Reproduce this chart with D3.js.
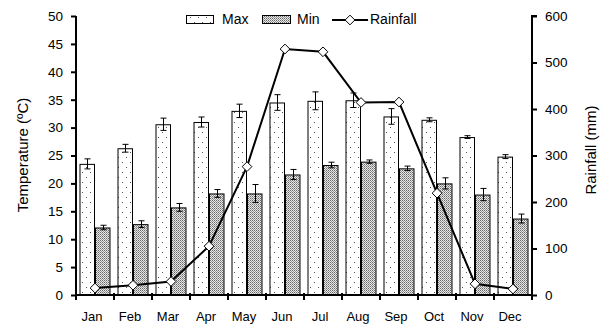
<!DOCTYPE html>
<html><head><meta charset="utf-8">
<script src="https://cdn.jsdelivr.net/npm/d3@7"></script>
<style>
body{margin:0;background:#fff;}
text{font-family:Arial,"Liberation Sans",sans-serif;fill:#000;}
</style></head>
<body>
<svg id="c" width="608" height="328"></svg>
<script>
const months = ["Jan","Feb","Mar","Apr","May","Jun","Jul","Aug","Sep","Oct","Nov","Dec"];
const maxTemp = [23.5,26.3,30.6,31.0,33.0,34.5,34.8,34.9,32.0,31.4,28.3,24.8];
const maxErr  = [0.9,0.7,1.1,0.9,1.2,1.4,1.6,1.3,1.4,0.35,0.25,0.35];
const minTemp = [12.1,12.7,15.7,18.2,18.2,21.6,23.3,23.9,22.7,20.0,18.0,13.7];
const minErr  = [0.4,0.6,0.7,0.7,1.6,0.9,0.5,0.3,0.4,1.0,1.1,0.8];
const rainfall = [15,21,29,105,276,529,523,414,415,219,24,13];
const tempTicks = [0,5,10,15,20,25,30,35,40,45,50];
const rainTicks = [0,100,200,300,400,500,600];

const svg = d3.select("#c");
const L = 76, R = 532, T = 16, B = 295;
const fs = 13.5;

const defs = svg.append("defs");
const pMax = defs.append("pattern").attr("id","pmax").attr("patternUnits","userSpaceOnUse")
  .attr("width",8).attr("height",10);
pMax.append("rect").attr("width",8).attr("height",10).attr("fill","#fff");
pMax.append("rect").attr("x",2).attr("y",2).attr("width",1).attr("height",1).attr("fill","#555");
pMax.append("rect").attr("x",6).attr("y",7).attr("width",1).attr("height",1).attr("fill","#555");
const pMin = defs.append("pattern").attr("id","pmin").attr("patternUnits","userSpaceOnUse")
  .attr("width",2).attr("height",2);
pMin.append("rect").attr("width",2).attr("height",2).attr("fill","#e6e6e6");
pMin.append("rect").attr("x",0).attr("y",0).attr("width",1).attr("height",1).attr("fill","#6a6a6a");
pMin.append("rect").attr("x",1).attr("y",1).attr("width",1).attr("height",1).attr("fill","#9a9a9a");

const x = d3.scaleBand().domain(months).range([L,R]).padding(0);
const xs = d3.scaleBand().domain(["Max","Min"]).range([0,x.bandwidth()]).paddingInner(0).paddingOuter(0.226);
const yT = d3.scaleLinear().domain([0,50]).range([B,T]);
const yR = d3.scaleLinear().domain([0,600]).range([B,T]);

const series = [
  {key:"Max", vals:maxTemp, err:maxErr, fill:"url(#pmax)"},
  {key:"Min", vals:minTemp, err:minErr, fill:"url(#pmin)"}
];
series.forEach(s=>{
  const g = svg.append("g");
  g.selectAll("rect").data(months).join("rect")
    .attr("x",(m)=>x(m)+xs(s.key)+0.5)
    .attr("y",(m,i)=>yT(s.vals[i])+0.5)
    .attr("width",xs.bandwidth()-1)
    .attr("height",(m,i)=>B-yT(s.vals[i]))
    .attr("fill",s.fill).attr("stroke","#000").attr("stroke-width",1);
  const eg = svg.append("g").attr("stroke","#000").attr("stroke-width",1);
  months.forEach((m,i)=>{
    const cx = Math.round(x(m)+xs(s.key)+xs.bandwidth()/2)+0.5;
    const y1 = yT(s.vals[i]+s.err[i]), y2 = yT(s.vals[i]-s.err[i]);
    eg.append("line").attr("x1",cx).attr("x2",cx).attr("y1",y1).attr("y2",y2);
    eg.append("line").attr("x1",cx-3).attr("x2",cx+3).attr("y1",y1).attr("y2",y1);
    eg.append("line").attr("x1",cx-3).attr("x2",cx+3).attr("y1",y2).attr("y2",y2);
  });
});

// rainfall line
const line = d3.line().x((d,i)=>x(months[i])+x.bandwidth()/2).y(d=>yR(d));
svg.append("path").datum(rainfall).attr("d",line).attr("fill","none").attr("stroke","#000").attr("stroke-width",2);
const diamond = d3.symbol().type(d3.symbolDiamond2).size(60);
svg.append("g").selectAll("path").data(rainfall).join("path")
  .attr("transform",(d,i)=>`translate(${x(months[i])+x.bandwidth()/2},${yR(d)})`)
  .attr("d",diamond).attr("fill","#fff").attr("stroke","#000").attr("stroke-width",1);

// axes
const axL = svg.append("g").attr("transform",`translate(${L},0)`)
  .call(d3.axisLeft(yT).tickValues(tempTicks).tickSize(5).tickPadding(8));
const axR = svg.append("g").attr("transform",`translate(${R},0)`)
  .call(d3.axisRight(yR).tickValues(rainTicks).tickSize(5).tickPadding(8));
const axB = svg.append("g").attr("transform",`translate(0,${B})`)
  .call(d3.axisBottom(x).tickSize(0).tickPadding(17));
[axL,axR,axB].forEach(a=>{
  a.selectAll("path").attr("stroke","#000").attr("stroke-width",2);
  a.selectAll("line").attr("stroke","#000").attr("stroke-width",2);
  a.selectAll("text").attr("font-size",fs).attr("font-family","Arial, 'Liberation Sans', sans-serif").attr("fill","#000");
});
axL.select(".domain").attr("d",`M-0,${T}H0V${B}`);
axR.select(".domain").attr("d",`M5,${T}H0V${B}`);
axB.select(".domain").attr("d",`M${L},0H${R}`);
axB.selectAll("text").attr("dx",-3).attr("font-size",13);
// category boundary ticks
svg.append("g").attr("stroke","#000").attr("stroke-width",2).selectAll("line")
  .data(months.concat(["end"])).join("line")
  .attr("x1",(m,i)=>i<12?x(m):R).attr("x2",(m,i)=>i<12?x(m):R)
  .attr("y1",B-2).attr("y2",B+5);

// axis titles
svg.append("text").attr("transform","translate(24,155) rotate(-90)")
  .attr("text-anchor","middle").attr("dominant-baseline","middle").attr("font-size",15)
  .text("Temperature (ºC)");
svg.append("text").attr("transform","translate(592,150) rotate(-90)")
  .attr("text-anchor","middle").attr("dominant-baseline","middle").attr("font-size",15)
  .text("Rainfall (mm)");

// legend
const lg = svg.append("g");
const ly = 20;
lg.append("rect").attr("x",186.5).attr("y",ly-4.5).attr("width",27).attr("height",8).attr("fill","url(#pmax)").attr("stroke","#000");
lg.append("text").attr("x",222).attr("y",ly).attr("dominant-baseline","middle").attr("font-size",14).text("Max");
lg.append("rect").attr("x",262.5).attr("y",ly-4.5).attr("width",28).attr("height",8).attr("fill","url(#pmin)").attr("stroke","#000");
lg.append("text").attr("x",297).attr("y",ly).attr("dominant-baseline","middle").attr("font-size",14).text("Min");
lg.append("line").attr("x1",332).attr("x2",368).attr("y1",ly).attr("y2",ly).attr("stroke","#000").attr("stroke-width",2);
lg.append("path").attr("transform",`translate(350,${ly})`).attr("d",diamond).attr("fill","#fff").attr("stroke","#000");
lg.append("text").attr("x",370).attr("y",ly).attr("dominant-baseline","middle").attr("font-size",14).text("Rainfall");
</script>
</body></html>
